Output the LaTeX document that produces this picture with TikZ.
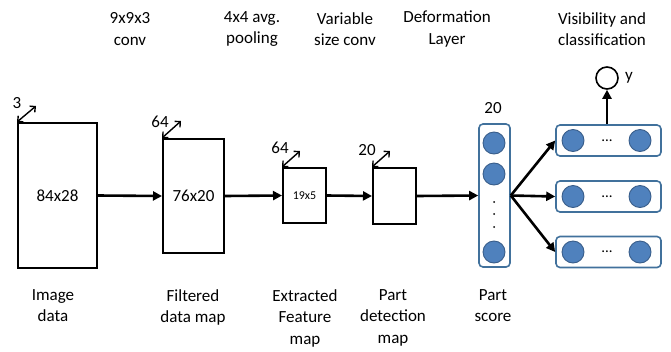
\documentclass[tikz,border=0pt]{standalone}
\usepackage{fontspec}
\setmainfont{Carlito}
\usetikzlibrary{arrows.meta}
\definecolor{nodeblue}{HTML}{4F81BD}
\definecolor{nodeedge}{HTML}{385D8A}
\definecolor{boxedge}{HTML}{41719C}
\begin{document}
\begin{tikzpicture}[x=1pt,y=-1pt,
  layer/.style={draw,line width=2pt,inner sep=0pt,font=\fontsize{17}{19}\selectfont},
  lbl/.style={align=center,font=\fontsize{17}{21.5}\selectfont,inner sep=0pt},
  dim/.style={font=\fontsize{17}{19}\selectfont,inner sep=0pt},
  flow/.style={line width=2.6pt,-{Triangle[length=9pt,width=9pt]}},
  depth/.style={line width=1.4pt,{Straight Barb[length=4pt,width=8pt]}-{Straight Barb[length=4pt,width=8pt]}},
  unit/.style={circle,fill=nodeblue,draw=nodeedge,line width=0.9pt,minimum size=22pt,inner sep=0pt},
  grp/.style={draw=boxedge,line width=1.6pt,rounded corners=4pt,fill=white},
]
\useasboundingbox (0,0) rectangle (671,351);
% layers
\node[layer,minimum width=79pt,minimum height=145pt] (img) at (57.5,195.5) {84x28};
\node[layer,minimum width=61pt,minimum height=114pt] (filt) at (193.5,196) {76x20};
\node[layer,minimum width=43pt,minimum height=55pt,font=\fontsize{12}{14}\selectfont] (ext) at (304.5,195.5) {19x5};
\node[layer,minimum width=43pt,minimum height=56pt] (pdm) at (394.5,196) {};
% depth arrows
\coordinate (a1) at (36,106);
\coordinate (a2) at (181,121);
\coordinate (a3) at (300,151);
\coordinate (a4) at (390,151);
\draw[depth] (img.north west) -- (a1);
\draw[depth] (filt.north west) -- (a2);
\draw[depth] (ext.north west) -- (a3);
\draw[depth] (pdm.north west) -- (a4);
\node[dim] (d1) at (17,103) {3};
\node[dim] (d2) at (160,122) {64};
\node[dim] (d3) at (280,148) {64};
\node[dim] (d4) at (367,150) {20};
% part score column
\node[grp,minimum width=31pt,minimum height=143pt,inner sep=0pt] (col) at (494.5,195.5) {};
\node[unit] (c1) at (494,143) {};
\node[unit] (c2) at (494,174) {};
\node[unit] (c3) at (494,252) {};
\foreach \yy [count=\i] in {202,214,227} \fill (494,\yy) circle (1pt) coordinate (dot\i);
\node[dim] (d5) at (493,108) {20};
% visibility boxes
\foreach \i/\yy in {1/140.5,2/196.5,3/252}{
  \node[grp,minimum width=105pt,minimum height=31pt,inner sep=0pt] (b\i) at (608.5,\yy) {};
  \node[unit] (l\i) at (573,\yy) {};
  \node[unit] (r\i) at (640,\yy) {};
  \node[inner sep=0pt,font=\fontsize{15}{16}\selectfont] (e\i) at (607,\yy) {...};
}
\node[circle,draw,line width=1.6pt,minimum size=22pt,inner sep=0pt] (out) at (607,78) {};
\node[dim] (ylab) at (629,78) {y};
% flow arrows
\draw[flow] (img.east) -- (filt.west);
\draw[flow] (filt.east) -- (ext.west);
\draw[flow] (ext.east) -- (pdm.west);
\draw[flow] (pdm.east) -- (col.west);
\draw[flow] (col.east) -- (b1.west);
\draw[flow] (col.east) -- (b2.west);
\draw[flow] (col.east) -- (b3.west);
\draw[flow] (b1.north -| out) -- (out.south);
% top labels
\node[lbl] (t1) at (130,29) {9x9x3\\conv};
\node[lbl] (t2) at (252,29) {4x4 avg.\\pooling};
\node[lbl] (t3) at (345,29) {Variable\\size conv};
\node[lbl] (t4) at (447,29) {Deformation\\Layer};
\node[lbl] (t5) at (602,29) {Visibility and\\classification};
% bottom labels
\node[lbl,anchor=north] (u1) at (53,289) {Image\\data};
\node[lbl,anchor=north] (u2) at (193,289) {Filtered\\data map};
\node[lbl,anchor=north] (u3) at (305,289) {Extracted\\Feature\\map};
\node[lbl,anchor=north] (u4) at (393,289) {Part\\detection\\map};
\node[lbl,anchor=north] (u5) at (493,289) {Part\\score};
\end{tikzpicture}
\end{document}
